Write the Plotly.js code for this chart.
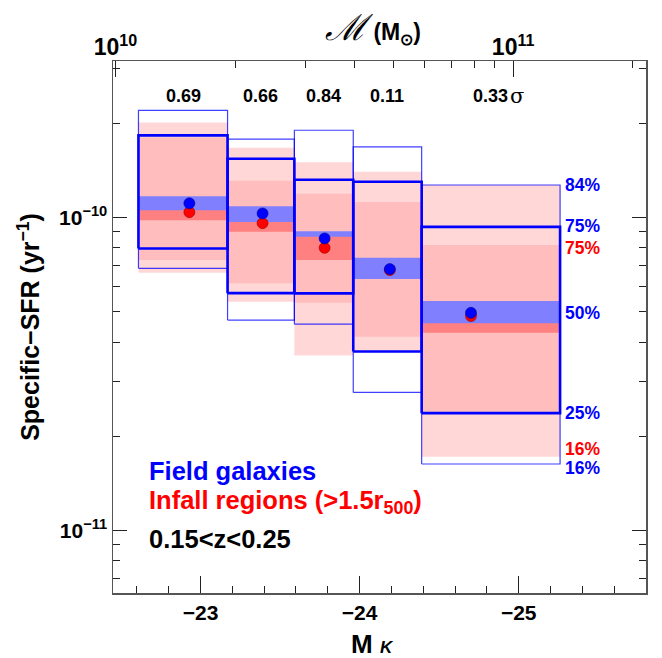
<!DOCTYPE html>
<html>
<head>
<meta charset="utf-8">
<script src="https://cdn.plot.ly/plotly-3.0.1.min.js"></script>
<style>html,body{margin:0;padding:0;background:#fff;}#chart{width:662px;height:658px;}</style>
</head>
<body>
<div id="chart"></div>
<script>
// ---- data ----
const binEdges = [-22.61, -23.17, -23.59, -23.96, -24.39, -25.26];   // M_K bin edges
const binMedianMK = [-22.93, -23.39, -23.78, -24.19, -24.70];         // x of the median points
const sigmaLabels = ['0.69', '0.66', '0.84', '0.11', '0.33'];

const field16 = [6.88e-11, 4.70e-11, 4.56e-11, 2.76e-11, 1.63e-11];
const field25 = [7.96e-11, 5.73e-11, 5.72e-11, 3.73e-11, 2.37e-11];
const field75 = [1.83e-10, 1.54e-10, 1.32e-10, 1.30e-10, 9.33e-11];
const field84 = [2.20e-10, 1.78e-10, 1.90e-10, 1.68e-10, 1.27e-10];
const fieldMed = [1.11e-10, 1.03e-10, 8.57e-11, 6.84e-11, 4.96e-11];
const fieldMedLo = [1.055e-10, 9.68e-11, 8.67e-11, 6.36e-11, 4.59e-11];
const fieldMedHi = [1.17e-10, 1.087e-10, 9.04e-11, 7.43e-11, 5.41e-11];

const infall16 = [6.66e-11, 5.38e-11, 3.62e-11, 3.75e-11, 1.72e-11];
const infall25 = [7.31e-11, 6.16e-11, 5.34e-11, 4.16e-11, 2.37e-11];
const infall75 = [1.80e-10, 1.31e-10, 1.19e-10, 1.12e-10, 8.16e-11];
const infall84 = [2.01e-10, 1.67e-10, 1.50e-10, 1.40e-10, 1.27e-10];
const infallMed = [1.04e-10, 9.59e-11, 8.00e-11, 6.79e-11, 4.84e-11];
const infallMedLo = [9.80e-11, 9.00e-11, 7.31e-11, 6.50e-11, 4.28e-11];
const infallMedHi = [1.09e-10, 1.01e-10, 8.84e-11, 7.20e-11, 4.77e-11];

const yMajorTicks = [1e-11, 1e-10];
const yMajorText = ['10<sup>−11</sup>', '10<sup>−10</sup>'];
const yMinorTicks = [7e-12, 8e-12, 9e-12, 2e-11, 3e-11, 4e-11, 5e-11, 6e-11, 7e-11, 8e-11, 9e-11, 2e-10, 3e-10];
const massMajorTicks = [1e10, 1e11];
const massMajorText = ['10<sup>10</sup>', '10<sup>11</sup>'];
const massMinorTicks = [2e10, 3e10, 4e10, 5e10, 6e10, 7e10, 8e10, 9e10, 2e11];

// ---- helpers ----
function rects(lo, hi) {
  const xs = [], ys = [];
  for (let i = 0; i < lo.length; i++) {
    const x0 = binEdges[i], x1 = binEdges[i + 1];
    xs.push(x0, x1, x1, x0, x0, null);
    ys.push(lo[i], lo[i], hi[i], hi[i], lo[i], null);
  }
  return {xs, ys};
}
function fillTrace(lo, hi, color) {
  const r = rects(lo, hi);
  return {x: r.xs, y: r.ys, type: 'scatter', mode: 'lines', fill: 'toself',
    fillcolor: color, line: {width: 0, color: color}, hoverinfo: 'skip', showlegend: false};
}
function outlineTrace(lo, hi, color, w) {
  const r = rects(lo, hi);
  return {x: r.xs, y: r.ys, type: 'scatter', mode: 'lines',
    line: {width: w, color: color}, hoverinfo: 'skip', showlegend: false};
}

const xRange = [-22.45, -25.80];
const mkRef = -22.465; // M_K at 10^10 Msun
const massRange = xRange.map(v => 10 + (mkRef - v) / 2.5);
const yRange = [-11.2, -9.5];

const traces = [
  fillTrace(infall16, infall84, '#ffd7d7'),
  fillTrace(infall25, infall75, '#ffbdbd'),
  fillTrace(infallMedLo, infallMedHi, '#ff8080'),
  fillTrace(fieldMedLo, fieldMedHi, '#8080ff'),
  outlineTrace(field16, field84, 'rgba(0,0,255,0.75)', 1.2),
  outlineTrace(field25, field75, '#0000ff', 2.6),
  {x: binMedianMK, y: infallMed, type: 'scatter', mode: 'markers',
    marker: {size: 11, color: '#ff0000', line: {width: 0.6, color: '#990000'}}, showlegend: false},
  {x: binMedianMK, y: fieldMed, type: 'scatter', mode: 'markers',
    marker: {size: 11, color: '#0000ff', line: {width: 0.6, color: '#000088'}}, showlegend: false},
  // axis holders
  {x: [], y: [], xaxis: 'x2', yaxis: 'y', type: 'scatter', mode: 'none', showlegend: false},
  {x: [], y: [], xaxis: 'x3', yaxis: 'y', type: 'scatter', mode: 'none', showlegend: false},
  {x: [], y: [], xaxis: 'x', yaxis: 'y2', type: 'scatter', mode: 'none', showlegend: false}
];

const FONT = 'Liberation Sans, Arial, sans-serif';
const axisCol = '#555555';
const blue = '#0000ff', red = '#ff0000';

const annotations = [];
// sigma labels at bin centres
sigmaLabels.forEach((s, i) => {
  annotations.push({x: (binEdges[i] + binEdges[i + 1]) / 2, xref: 'x', y: 0.934, yref: 'paper',
    text: s, showarrow: false, xanchor: 'center', yanchor: 'middle',
    font: {family: FONT, size: 18, weight: 'bold', color: '#000'}});
});
annotations.push({x: (binEdges[4] + binEdges[5]) / 2, xref: 'x', y: 0.934, yref: 'paper',
  text: 'σ', showarrow: false, xanchor: 'left', yanchor: 'middle', xshift: 17,
  font: {family: 'DejaVu Serif, serif', size: 21, color: '#000'}});

// percentile labels at the last bin
const last = binEdges.length - 1, lb = sigmaLabels.length - 1;
[
  ['84%', field84[lb], blue, 0],
  ['75%', field75[lb], blue, 1],
  ['75%', infall75[lb], red, -3],
  ['50%', fieldMed[lb], blue, 0],
  ['25%', field25[lb], blue, 0],
  ['16%', infall16[lb], red, 8],
  ['16%', field16[lb], blue, -4]
].forEach(([t, v, c, ys]) => {
  annotations.push({x: binEdges[last], xref: 'x', y: Math.log10(v), yref: 'y', text: t,
    showarrow: false, xanchor: 'left', yanchor: 'middle', xshift: 3, yshift: ys,
    font: {family: FONT, size: 17.5, weight: 'bold', color: c}});
});

// legend-like texts
[
  ['Field galaxies', 0.2298, blue],
  ['Infall regions (>1.5r<sub>500</sub>)', 0.1715, red],
  ['0.15<z<0.25', 0.1009, '#000']
].forEach(([t, y, c]) => {
  annotations.push({x: 0.0644, xref: 'paper', y: y, yref: 'paper', text: t, showarrow: false,
    xanchor: 'left', yanchor: 'middle', font: {family: FONT, size: 25.5, weight: 'bold', color: c}});
});

// top axis title
annotations.push({x: 0.487, xref: 'paper', y: 1.063, yref: 'paper', showarrow: false,
  xanchor: 'center', yanchor: 'middle',
  text: '<span style="font-family:DejaVu Serif;font-style:italic;font-size:36px;font-weight:normal">ℳ</span> (M<sub>⊙</sub>)',
  font: {family: FONT, size: 23, weight: 'bold', color: '#000'}});

// bottom axis title
annotations.push({x: 0.487, xref: 'paper', y: -0.095, yref: 'paper', showarrow: false,
  xanchor: 'center', yanchor: 'middle',
  text: 'M <span style="font-size:17px;font-style:italic">K</span>',
  font: {family: FONT, size: 26, weight: 'bold', color: '#000'}});

const layout = {
  width: 662, height: 658,
  margin: {l: 113, r: 16, t: 61, b: 65, pad: 0},
  paper_bgcolor: '#fff', plot_bgcolor: '#fff',
  showlegend: false,
  xaxis: {
    range: xRange, showgrid: false, zeroline: false,
    showline: true, linecolor: axisCol, linewidth: 1.5, mirror: true,
    ticks: 'inside', ticklen: 17, tickwidth: 1.3, tickcolor: '#222',
    tickmode: 'linear', tick0: -23, dtick: 1,
    minor: {ticks: 'inside', ticklen: 7, tickwidth: 1, tickcolor: '#222', dtick: 0.2, tick0: -23, showgrid: false},
    tickfont: {family: FONT, size: 21, weight: 'bold', color: '#000'}
  },
  xaxis2: {
    type: 'log', overlaying: 'x', side: 'top', anchor: 'y', range: massRange,
    showgrid: false, zeroline: false, showline: false,
    tickmode: 'array', tickvals: massMajorTicks, ticktext: massMajorText,
    ticks: 'inside', ticklen: 16, tickwidth: 1.3, tickcolor: '#222',
    tickfont: {family: FONT, size: 23, weight: 'bold', color: '#000'}
  },
  xaxis3: {
    type: 'log', overlaying: 'x', side: 'top', anchor: 'y', range: massRange,
    showgrid: false, zeroline: false, showline: false,
    tickmode: 'array', tickvals: massMinorTicks, showticklabels: false,
    ticks: 'inside', ticklen: 7, tickwidth: 1, tickcolor: '#222'
  },
  yaxis: {
    type: 'log', range: yRange, showgrid: false, zeroline: false,
    showline: true, linecolor: axisCol, linewidth: 1.5, mirror: 'ticks',
    tickmode: 'array', tickvals: yMajorTicks, ticktext: yMajorText,
    ticks: 'inside', ticklen: 14, tickwidth: 1.3, tickcolor: '#222',
    tickfont: {family: FONT, size: 21, weight: 'bold', color: '#000'},
    title: {text: 'Specific−SFR (yr<sup>−1</sup>)', standoff: 12, font: {family: FONT, size: 25, weight: 'bold', color: '#000'}}
  },
  yaxis2: {
    type: 'log', overlaying: 'y', side: 'left', anchor: 'x', range: yRange,
    showgrid: false, zeroline: false, showline: false, mirror: 'ticks',
    tickmode: 'array', tickvals: yMinorTicks, showticklabels: false,
    ticks: 'inside', ticklen: 7, tickwidth: 1, tickcolor: '#222'
  },
  annotations: annotations
};

Plotly.newPlot('chart', traces, layout, {staticPlot: true, displayModeBar: false});
</script>
</body>
</html>
